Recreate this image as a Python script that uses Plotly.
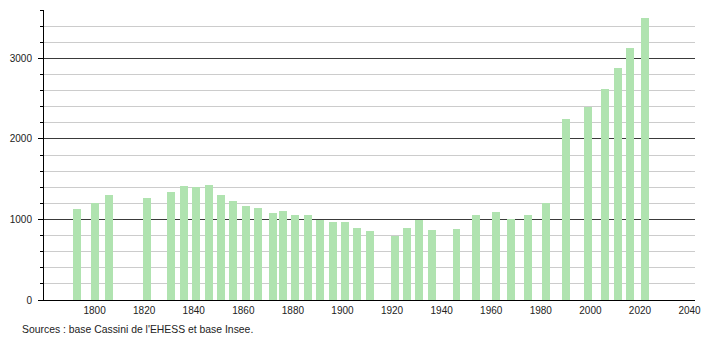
import plotly.graph_objects as go

years = [1793, 1800, 1806, 1821, 1831, 1836, 1841, 1846, 1851, 1856, 1861, 1866,
         1872, 1876, 1881, 1886, 1891, 1896, 1901, 1906, 1911, 1921, 1926, 1931,
         1936, 1946, 1954, 1962, 1968, 1975, 1982, 1990, 1999, 2006, 2011, 2016, 2022]
population = [1135, 1208, 1308, 1270, 1345, 1420, 1407, 1432, 1299, 1233, 1171, 1146,
              1075, 1108, 1058, 1058, 996, 971, 971, 900, 855, 797, 897, 996,
              872, 884, 1050, 1088, 1009, 1050, 1208, 2242, 2395, 2624, 2885, 3134, 3496]
x_ticks = [1800, 1820, 1840, 1860, 1880, 1900, 1920, 1940, 1960, 1980, 2000, 2020, 2040]
y_ticks = [0, 1000, 2000, 3000]
source_text = "Sources : base Cassini de l'EHESS et base Insee."

fig = go.Figure()
fig.add_trace(go.Bar(
    x=years, y=population, width=3.2,
    marker=dict(color="#b0e3b0", line=dict(width=0)),
    hoverinfo="x+y",
))

fig.update_layout(
    width=710, height=340,
    margin=dict(l=44, r=9, t=10, b=40),
    plot_bgcolor="white", paper_bgcolor="white",
    font=dict(family="Liberation Sans, Arial, sans-serif", size=10, color="#222"),
    showlegend=False,
    bargap=0,
    xaxis=dict(
        range=[1779.6, 2042.2],
        tickvals=x_ticks, ticktext=[str(v) for v in x_ticks],
        showgrid=False, zeroline=False,
        showline=True, linecolor="black", linewidth=1,
        ticks="", ticklabelstandoff=1,
    ),
    yaxis=dict(
        range=[0, 3600],
        tickvals=y_ticks, ticktext=[str(v) for v in y_ticks],
        showgrid=True, gridcolor="#3a3a3a", gridwidth=1,
        zeroline=False,
        showline=True, linecolor="black", linewidth=1,
        ticks="outside", ticklen=5, tickcolor="black",
        ticklabelstandoff=4,
        minor=dict(dtick=200, showgrid=True, gridcolor="#cccccc", gridwidth=1,
                   ticks="outside", ticklen=3, tickcolor="black"),
    ),
    annotations=[dict(
        text=source_text, xref="paper", yref="paper",
        x=(20 - 44) / 657, y=(300 - 329) / 290,
        xanchor="left", yanchor="middle", showarrow=False,
        font=dict(size=10.4, color="#222"),
    )],
)

fig.write_html("out.html")
